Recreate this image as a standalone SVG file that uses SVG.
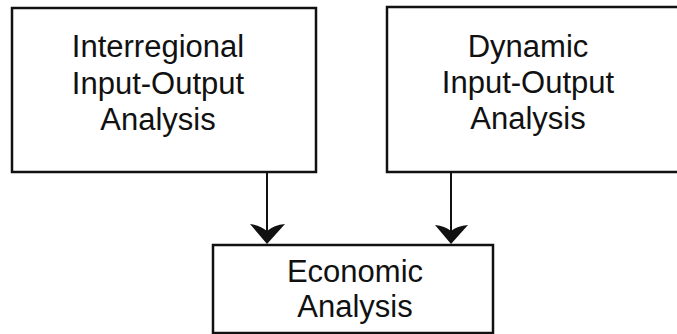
<svg xmlns="http://www.w3.org/2000/svg" width="677" height="334" viewBox="0 0 677 334">
  <defs>
    <style>
      .box { fill: #ffffff; stroke: #111111; stroke-width: 2.5; }
      .label { font-family: "Liberation Sans", Arial, Helvetica, sans-serif; font-size: 31px; fill: #111111; text-anchor: middle; }
      .link { stroke: #111111; stroke-width: 2; fill: none; }
      .head { fill: #111111; stroke: none; }
    </style>
  </defs>
  <rect width="677" height="334" fill="#ffffff"/>

  <g id="interregional">
    <rect class="box" x="12" y="8" width="304" height="164"/>
    <text class="label" x="158" y="57">Interregional</text>
    <text class="label" x="158" y="94">Input-Output</text>
    <text class="label" x="158" y="130">Analysis</text>
  </g>

  <g id="dynamic">
    <rect class="box" x="387" y="7" width="300" height="165"/>
    <text class="label" x="528" y="57">Dynamic</text>
    <text class="label" x="528" y="93">Input-Output</text>
    <text class="label" x="528" y="129">Analysis</text>
  </g>

  <g id="economic">
    <rect class="box" x="213" y="245" width="280" height="88"/>
    <text class="label" x="355" y="282">Economic</text>
    <text class="label" x="355" y="317">Analysis</text>
  </g>

  <g id="connectors">
    <line class="link" x1="267" y1="172" x2="267" y2="232"/>
    <path class="head" d="M267,244 L250,224 Q260,225 267,231 Q274,225 285,224 Z"/>
    <line class="link" x1="451" y1="172" x2="451" y2="232"/>
    <path class="head" d="M451,244 L435,225 Q445,226 451,231 Q457,226 468,225 Z"/>
  </g>
</svg>
